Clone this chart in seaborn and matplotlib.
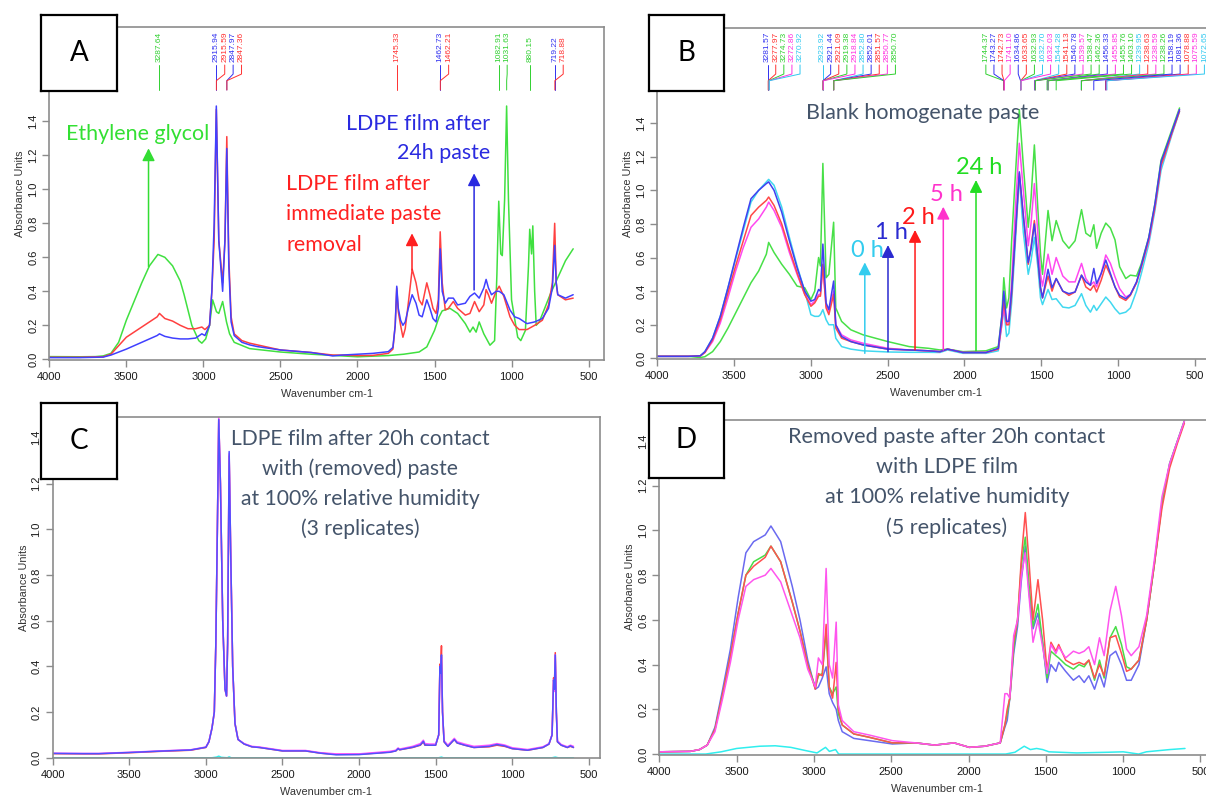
import numpy as np
import pandas as pd
import seaborn as sns
import matplotlib.pyplot as plt
from matplotlib.ticker import FormatStrFormatter

sns.set_style("white")
plt.rcParams['font.family'] = ['Liberation Sans', 'DejaVu Sans']

# ---------------- panel A data ----------------
a_wn = [4000, 3800, 3700, 3650, 3600, 3500, 3400, 3300, 3285, 3250,
        3200, 3150, 3100, 3050, 3010, 2990, 2960, 2945, 2930, 2916,
        2900, 2875, 2860, 2848, 2835, 2820, 2800, 2750, 2700, 2650,
        2500, 2300, 2160, 2100, 2000, 1900, 1800, 1770, 1755, 1745,
        1735, 1720, 1705, 1690, 1670, 1645, 1620, 1600, 1580, 1550,
        1530, 1510, 1490, 1475, 1463, 1450, 1430, 1410, 1378, 1350,
        1300, 1270, 1240, 1210, 1180, 1165, 1150, 1130, 1100, 1080,
        1050, 1010, 980, 950, 900, 850, 800, 760, 735, 720,
        710, 700, 650, 600]
a_red = [0.012, 0.012, 0.014, 0.015, 0.03, 0.13, 0.19, 0.25, 0.27, 0.24,
         0.225, 0.2, 0.18, 0.18, 0.19, 0.175, 0.2, 0.4, 0.7, 1.47,
         0.7, 0.45, 0.7, 1.31, 0.6, 0.25, 0.15, 0.11, 0.095, 0.085,
         0.055, 0.04, 0.025, 0.025, 0.022, 0.023, 0.035, 0.06, 0.2, 0.42,
         0.28, 0.2, 0.13, 0.18, 0.33, 0.53, 0.45, 0.35, 0.32, 0.45,
         0.38, 0.3, 0.27, 0.35, 0.75, 0.45, 0.29, 0.3, 0.34, 0.3,
         0.26, 0.27, 0.34, 0.28, 0.32, 0.41, 0.38, 0.33, 0.4, 0.43,
         0.37, 0.25, 0.2, 0.175, 0.175, 0.2, 0.23, 0.32, 0.45, 0.8,
         0.45, 0.38, 0.35, 0.36]
a_blue = [0.01, 0.01, 0.012, 0.013, 0.025, 0.06, 0.1, 0.14, 0.15, 0.135,
          0.125, 0.12, 0.12, 0.125, 0.15, 0.14, 0.2, 0.4, 0.8, 1.49,
          0.7, 0.4, 0.7, 1.24, 0.55, 0.22, 0.14, 0.1, 0.085, 0.075,
          0.055, 0.04, 0.02, 0.025, 0.03, 0.035, 0.045, 0.07, 0.2, 0.43,
          0.3, 0.23, 0.2, 0.22, 0.3, 0.38, 0.33, 0.26, 0.25, 0.35,
          0.3, 0.24, 0.22, 0.3, 0.65, 0.4, 0.33, 0.36, 0.36, 0.32,
          0.33, 0.37, 0.39, 0.36, 0.42, 0.47, 0.42, 0.38, 0.4, 0.4,
          0.38, 0.29, 0.25, 0.24, 0.21, 0.22, 0.24, 0.3, 0.42, 0.67,
          0.45, 0.38, 0.36, 0.38]
glycol_wn = [4000, 3800, 3700, 3650, 3600, 3550, 3500, 3450, 3400, 3350,
             3295, 3250, 3200, 3150, 3125, 3075, 3030, 3010, 2985, 2960,
             2940, 2915, 2900, 2875, 2850, 2830, 2800, 2700, 2500, 2300,
             2000, 1800, 1700, 1600, 1550, 1500, 1470, 1450, 1400, 1350,
             1300, 1270, 1250, 1230, 1210, 1180, 1140, 1110, 1095, 1083,
             1070, 1060, 1045, 1032, 1020, 1000, 960, 940, 910, 890,
             882, 870, 862, 850, 840, 820, 750, 700, 650, 600]
glycol_abs = [0.016, 0.015, 0.016, 0.02, 0.035, 0.1, 0.23, 0.34, 0.45, 0.55,
              0.617, 0.6, 0.55, 0.46, 0.38, 0.2, 0.11, 0.095, 0.12, 0.2,
              0.35, 0.28, 0.27, 0.34, 0.22, 0.15, 0.1, 0.063, 0.043, 0.03,
              0.015, 0.022, 0.03, 0.043, 0.073, 0.17, 0.25, 0.285, 0.3, 0.27,
              0.21, 0.16, 0.19, 0.16, 0.22, 0.15, 0.083, 0.11, 0.5, 0.93,
              0.62, 0.61, 0.94, 1.49, 0.94, 0.35, 0.13, 0.11, 0.17, 0.55,
              0.765, 0.62, 0.785, 0.4, 0.2, 0.22, 0.38, 0.48, 0.58, 0.65]
a_peaks = [3287.64, 2915.94, 2915.59, 2847.97, 2847.36, 1745.33, 1462.73,
           1462.21, 1082.91, 1031.63, 880.15, 719.22, 718.88]
a_peak_colors = ['g', 'b', 'r', 'b', 'r', 'r', 'b', 'r', 'g', 'g', 'g', 'b', 'r']

# ---------------- panel B data ----------------
b_wn = [4000, 3800, 3720, 3690, 3640, 3590, 3540, 3490, 3440, 3390,
        3340, 3290, 3275, 3240, 3190, 3140, 3090, 3040, 3000, 2975,
        2950, 2938, 2922, 2901, 2883, 2852, 2838, 2800, 2740, 2660,
        2500, 2360, 2235, 2160, 2110, 2010, 1860, 1780, 1757, 1744,
        1726, 1711, 1693, 1668, 1643, 1617, 1585, 1567, 1545, 1523,
        1505, 1492, 1456, 1430, 1403, 1360, 1320, 1280, 1238, 1210,
        1180, 1158, 1140, 1110, 1080, 1050, 1020, 990, 950, 920,
        880, 850, 800, 760, 720, 700, 650, 600]
b_0h = [0.012, 0.012, 0.015, 0.04, 0.12, 0.25, 0.42, 0.59, 0.76, 0.93,
        1.0, 1.05, 1.065, 1.03, 0.9, 0.72, 0.55, 0.4, 0.26, 0.25,
        0.25, 0.26, 0.29, 0.23, 0.2, 0.2, 0.12, 0.07, 0.055, 0.045,
        0.038, 0.036, 0.036, 0.035, 0.05, 0.03, 0.03, 0.045, 0.2, 0.3,
        0.13, 0.15, 0.33, 0.7, 1.08, 0.75, 0.5, 0.58, 0.72, 0.55,
        0.36, 0.32, 0.41, 0.35, 0.355, 0.305, 0.3, 0.315, 0.385, 0.315,
        0.275, 0.315, 0.285, 0.325, 0.365, 0.335, 0.295, 0.265, 0.275, 0.3,
        0.4, 0.5, 0.68, 0.88, 1.12, 1.18, 1.33, 1.47]
b_1h = [0.012, 0.012, 0.015, 0.04, 0.12, 0.25, 0.42, 0.6, 0.78, 0.95,
        1.0, 1.04, 1.05, 1.0, 0.87, 0.7, 0.54, 0.4, 0.34, 0.35,
        0.41, 0.4, 0.68, 0.33, 0.29, 0.46, 0.2, 0.13, 0.1, 0.08,
        0.055, 0.05, 0.045, 0.04, 0.055, 0.035, 0.035, 0.06, 0.25, 0.4,
        0.22, 0.22, 0.4, 0.75, 1.11, 0.85, 0.57, 0.65, 0.8, 0.6,
        0.42, 0.36, 0.53, 0.42, 0.475, 0.4, 0.385, 0.395, 0.495, 0.455,
        0.435, 0.535, 0.445, 0.505, 0.585, 0.505, 0.425, 0.375, 0.355, 0.38,
        0.455, 0.55, 0.72, 0.92, 1.17, 1.22, 1.35, 1.48]
b_2h = [0.012, 0.012, 0.015, 0.035, 0.11, 0.23, 0.39, 0.55, 0.7, 0.85,
        0.9, 0.94, 0.96, 0.91, 0.8, 0.65, 0.51, 0.38, 0.31, 0.33,
        0.37, 0.37, 0.56, 0.3, 0.26, 0.38, 0.18, 0.12, 0.1, 0.08,
        0.055, 0.05, 0.045, 0.04, 0.055, 0.035, 0.035, 0.055, 0.22, 0.35,
        0.2, 0.2, 0.38, 0.75, 1.1, 0.85, 0.56, 0.66, 0.82, 0.6,
        0.42, 0.36, 0.49, 0.4, 0.475, 0.4, 0.375, 0.395, 0.495, 0.425,
        0.405, 0.435, 0.395, 0.465, 0.555, 0.495, 0.425, 0.365, 0.345, 0.375,
        0.45, 0.54, 0.71, 0.9, 1.15, 1.2, 1.34, 1.47]
b_5h = [0.012, 0.012, 0.015, 0.035, 0.1, 0.21, 0.36, 0.52, 0.66, 0.78,
        0.83, 0.9, 0.93, 0.88, 0.78, 0.63, 0.5, 0.38, 0.32, 0.34,
        0.38, 0.38, 0.55, 0.31, 0.28, 0.4, 0.2, 0.14, 0.11, 0.09,
        0.06, 0.05, 0.045, 0.04, 0.055, 0.035, 0.035, 0.055, 0.2, 0.3,
        0.2, 0.24, 0.45, 0.9, 1.28, 1.0, 0.67, 0.8, 1.04, 0.75,
        0.5, 0.43, 0.62, 0.5, 0.6, 0.49, 0.455, 0.455, 0.565, 0.475,
        0.435, 0.455, 0.425, 0.505, 0.615, 0.565, 0.485, 0.415, 0.365, 0.38,
        0.45, 0.54, 0.7, 0.9, 1.15, 1.2, 1.34, 1.48]
b_24h = [0.012, 0.012, 0.005, 0.01, 0.04, 0.1, 0.18, 0.27, 0.36, 0.45,
         0.52, 0.62, 0.69, 0.63, 0.56, 0.5, 0.43, 0.42, 0.35, 0.4,
         0.6, 0.55, 1.16, 0.48, 0.5, 0.81, 0.3, 0.22, 0.17, 0.14,
         0.1, 0.07, 0.06, 0.05, 0.055, 0.04, 0.045, 0.07, 0.25, 0.48,
         0.3, 0.36, 0.7, 1.1, 1.48, 1.15, 0.78, 0.95, 1.27, 0.9,
         0.62, 0.5, 0.88, 0.7, 0.82, 0.7, 0.655, 0.7, 0.885, 0.745,
         0.725, 0.795, 0.655, 0.745, 0.805, 0.775, 0.705, 0.545, 0.475, 0.495,
         0.49, 0.56, 0.72, 0.92, 1.18, 1.23, 1.36, 1.49]
b_peaks = [3281.57, 3277.97, 3274.73, 3272.86, 3270.92,
           2923.92, 2921.44, 2921.09, 2919.38, 2918.84,
           2852.80, 2852.01, 2851.57, 2850.77, 2850.70,
           1744.37, 1743.27, 1742.73, 1741.10, 1634.86, 1633.65, 1632.93,
           1632.70, 1632.03, 1544.28, 1541.13, 1540.78, 1539.57, 1538.47,
           1462.36, 1456.33, 1455.85, 1455.76, 1403.10, 1239.95, 1238.63,
           1238.59, 1238.26, 1158.19, 1081.36, 1078.88, 1075.59, 1072.65]
b_peak_colors = ['b', 'r', 'g', 'm', 'c',
                 'c', 'b', 'r', 'g', 'm',
                 'c', 'b', 'r', 'm', 'g',
                 'g', 'b', 'r', 'm', 'b', 'r', 'g',
                 'c', 'm', 'c', 'r', 'b', 'm', 'g',
                 'g', 'b', 'm', 'g', 'g', 'c', 'r',
                 'm', 'g', 'b', 'b', 'r', 'm', 'c']
b_hours = ['0 h', '1 h', '2 h', '5 h', '24 h']
b_arrow_x = [2649, 2498, 2322, 2138, 1925]
b_arrow_top = [0.571, 0.674, 0.764, 0.902, 1.061]
b_arrow_bottom = [0.03, 0.04, 0.05, 0.05, 0.045]

# ---------------- panel C data ----------------
c_wn = [4000, 3800, 3700, 3500, 3300, 3100, 3000, 2980, 2960, 2945,
        2935, 2925, 2916, 2905, 2890, 2875, 2865, 2858, 2848, 2838,
        2825, 2810, 2790, 2750, 2700, 2650, 2500, 2350, 2250, 2150,
        2000, 1800, 1760, 1745, 1735, 1650, 1600, 1580, 1570, 1540,
        1500, 1480, 1472, 1468, 1462, 1455, 1445, 1420, 1378, 1360,
        1310, 1250, 1150, 1100, 1050, 1000, 900, 800, 760, 740,
        730, 725, 719, 712, 705, 680, 640, 620, 600]
c_rep1 = [0.018, 0.017, 0.017, 0.022, 0.028, 0.033, 0.045, 0.07, 0.13, 0.2,
          0.5, 1.0, 1.48, 1.2, 0.6, 0.3, 0.27, 0.5, 1.32, 0.9,
          0.4, 0.15, 0.08, 0.06, 0.048, 0.045, 0.03, 0.03, 0.02, 0.015,
          0.015, 0.025, 0.03, 0.04, 0.035, 0.045, 0.055, 0.07, 0.055, 0.055,
          0.055, 0.1, 0.41, 0.38, 0.49, 0.2, 0.07, 0.05, 0.08, 0.065,
          0.055, 0.045, 0.048, 0.055, 0.05, 0.04, 0.033, 0.045, 0.06, 0.1,
          0.35, 0.3, 0.46, 0.2, 0.07, 0.055, 0.045, 0.05, 0.045]
c_rep2 = [0.02, 0.019, 0.019, 0.024, 0.03, 0.035, 0.047, 0.072, 0.13, 0.2,
          0.5, 1.0, 1.49, 1.2, 0.6, 0.3, 0.27, 0.5, 1.33, 0.9,
          0.4, 0.15, 0.08, 0.062, 0.05, 0.047, 0.032, 0.032, 0.022, 0.017,
          0.017, 0.028, 0.033, 0.043, 0.038, 0.05, 0.062, 0.077, 0.062, 0.06,
          0.06, 0.1, 0.4, 0.37, 0.44, 0.2, 0.075, 0.055, 0.085, 0.07,
          0.06, 0.05, 0.055, 0.062, 0.056, 0.044, 0.036, 0.048, 0.062, 0.1,
          0.34, 0.29, 0.45, 0.2, 0.075, 0.058, 0.048, 0.055, 0.05]
c_rep3 = [0.019, 0.018, 0.018, 0.023, 0.029, 0.034, 0.046, 0.07, 0.13, 0.2,
          0.5, 1.0, 1.48, 1.2, 0.6, 0.3, 0.27, 0.5, 1.34, 0.9,
          0.4, 0.15, 0.08, 0.06, 0.048, 0.045, 0.03, 0.03, 0.02, 0.013,
          0.014, 0.024, 0.03, 0.04, 0.035, 0.046, 0.056, 0.072, 0.056, 0.055,
          0.055, 0.1, 0.4, 0.37, 0.45, 0.2, 0.07, 0.05, 0.08, 0.065,
          0.055, 0.045, 0.05, 0.058, 0.052, 0.04, 0.033, 0.045, 0.06, 0.1,
          0.34, 0.3, 0.45, 0.2, 0.07, 0.055, 0.045, 0.052, 0.045]
c_diff_wn = [4000, 2960, 2930, 2916, 2900, 2860, 2848, 2835, 1480, 1462,
             1450, 740, 719, 700, 600]
c_diff = [0.0, 0.0, 0.003, 0.007, 0.002, 0.0, 0.004, 0.0, 0.0, 0.003,
          0.0, 0.0, 0.003, 0.0, 0.0]

# ---------------- panel D data ----------------
d_wn = [4000, 3800, 3740, 3690, 3640, 3590, 3540, 3490, 3440, 3390,
        3315, 3278, 3215, 3140, 3090, 3040, 2991, 2971, 2946, 2921,
        2901, 2879, 2856, 2842, 2817, 2742, 2642, 2493, 2343, 2219,
        2094, 1995, 1895, 1795, 1765, 1750, 1733, 1708, 1683, 1658,
        1633, 1608, 1583, 1551, 1521, 1492, 1467, 1435, 1417, 1372,
        1322, 1285, 1252, 1222, 1185, 1153, 1123, 1085, 1048, 1011,
        978, 948, 898, 848, 798, 749, 699, 649, 604]
d_blue = [0.01, 0.012, 0.02, 0.04, 0.12, 0.29, 0.47, 0.7, 0.9, 0.95,
          0.98, 1.02, 0.95, 0.75, 0.6, 0.42, 0.29, 0.3, 0.34, 0.39,
          0.27, 0.23, 0.2, 0.15, 0.1, 0.07, 0.06, 0.045, 0.05, 0.04,
          0.05, 0.03, 0.035, 0.05, 0.12, 0.15, 0.25, 0.45, 0.57, 0.78,
          0.93, 0.72, 0.56, 0.63, 0.5, 0.32, 0.4, 0.37, 0.41, 0.37,
          0.33, 0.35, 0.32, 0.35, 0.29, 0.36, 0.3, 0.44, 0.46, 0.4,
          0.33, 0.33, 0.4, 0.6, 0.85, 1.12, 1.3, 1.4, 1.49]
d_green = [0.01, 0.012, 0.02, 0.04, 0.11, 0.27, 0.44, 0.63, 0.8, 0.86,
           0.89, 0.93, 0.86, 0.68, 0.55, 0.4, 0.3, 0.35, 0.36, 0.55,
           0.3, 0.27, 0.3, 0.18, 0.13, 0.09, 0.075, 0.05, 0.05, 0.04,
           0.05, 0.03, 0.035, 0.05, 0.13, 0.18, 0.25, 0.47, 0.6, 0.85,
           0.97, 0.75, 0.57, 0.67, 0.5, 0.34, 0.46, 0.44, 0.43, 0.4,
           0.38, 0.4, 0.39, 0.42, 0.33, 0.42, 0.34, 0.52, 0.57, 0.49,
           0.39, 0.38, 0.42, 0.6, 0.85, 1.12, 1.3, 1.4, 1.49]
d_red = [0.01, 0.012, 0.02, 0.04, 0.11, 0.27, 0.44, 0.63, 0.8, 0.84,
         0.88, 0.93, 0.86, 0.68, 0.55, 0.4, 0.29, 0.36, 0.35, 0.58,
         0.3, 0.25, 0.41, 0.2, 0.13, 0.09, 0.075, 0.05, 0.05, 0.04,
         0.05, 0.03, 0.035, 0.05, 0.13, 0.2, 0.25, 0.5, 0.6, 0.88,
         1.08, 0.85, 0.6, 0.78, 0.6, 0.37, 0.5, 0.46, 0.49, 0.42,
         0.4, 0.41, 0.4, 0.42, 0.34, 0.4, 0.35, 0.52, 0.53, 0.45,
         0.37, 0.38, 0.42, 0.6, 0.85, 1.1, 1.28, 1.39, 1.48]
d_magenta = [0.01, 0.012, 0.02, 0.04, 0.1, 0.25, 0.41, 0.6, 0.75, 0.78,
             0.8, 0.83, 0.77, 0.62, 0.52, 0.38, 0.3, 0.43, 0.4, 0.83,
             0.4, 0.34, 0.59, 0.22, 0.15, 0.1, 0.085, 0.06, 0.05, 0.04,
             0.05, 0.03, 0.035, 0.05, 0.27, 0.27, 0.25, 0.53, 0.6, 0.8,
             0.9, 0.7, 0.5, 0.6, 0.48, 0.36, 0.49, 0.45, 0.48, 0.43,
             0.46, 0.45, 0.46, 0.48, 0.4, 0.52, 0.44, 0.64, 0.75, 0.62,
             0.47, 0.44, 0.48, 0.62, 0.87, 1.15, 1.3, 1.4, 1.49]
d_diff_wn = [4000, 3700, 3600, 3500, 3350, 3250, 3150, 3050, 2980, 2925,
             2900, 2860, 2840, 1760, 1700, 1640, 1600, 1560, 1520, 1480,
             1300, 1100, 1000, 950, 900, 850, 700, 600]
d_diff = [0.0, 0.0, 0.01, 0.025, 0.035, 0.037, 0.03, 0.015, 0.005, 0.03,
          0.012, 0.02, 0.0, 0.0, 0.008, 0.035, 0.02, 0.025, 0.02, 0.01,
          0.005, 0.008, 0.01, 0.005, 0.0, 0.01, 0.02, 0.025]

# ---------------- styling ----------------
W, H = 1206, 796
label_cols = {'r': '#ff3030', 'g': '#30d030', 'b': '#3030f0',
              'm': '#ff30e0', 'c': '#30c8f0'}
slate = '#44546a'


def px_axes(fig, left, top, right, bottom):
    return fig.add_axes([left / W, 1 - bottom / H, (right - left) / W, (bottom - top) / H])


def style_axes(ax, xlim, ylim):
    ax.set_xlim(*xlim)
    ax.set_ylim(*ylim)
    ax.set_xticks(range(4000, 499, -500))
    ax.set_yticks(np.arange(0, 1.41, 0.2))
    ax.yaxis.set_major_formatter(FormatStrFormatter('%.1f'))
    for s in ax.spines.values():
        s.set_color('#8c8c8c')
        s.set_linewidth(1.2)
    ax.tick_params(bottom=True, left=True, direction='out', length=5, width=1,
                   color='#8c8c8c', labelsize=8, labelcolor='#1a1a1a', pad=4)
    ax.tick_params(axis='y', labelrotation=90, pad=3)
    for lab in ax.get_yticklabels():
        lab.set_va('center')
    ax.set_xlabel('Wavenumber cm-1', fontsize=7.8, color='#333333', labelpad=5)
    ax.set_ylabel('Absorbance Units', fontsize=7.8, color='#333333', labelpad=2)


def draw_spectra(ax, wn, series, palette):
    frames = [pd.DataFrame({'wn': wn, 'absorbance': vals, 'series': name})
              for name, vals in series.items()]
    df = pd.concat(frames, ignore_index=True)
    sns.lineplot(data=df, x='wn', y='absorbance', hue='series', hue_order=list(series),
                 palette=palette, sort=False, estimator=None, legend=False,
                 linewidth=1.1, ax=ax)


def peak_labels(ax, wn, cols, gap, right_bound, ys):
    y_text, y_top, y_b1, y_b2, y_bot = ys
    order = np.argsort(wn)[::-1]
    wn_s = [wn[i] for i in order]
    col_s = [cols[i] for i in order]
    pos = []
    for w in wn_s:
        pos.append(w if not pos else min(w, pos[-1] - gap))
    pos[-1] = max(pos[-1], right_bound)
    for i in range(len(pos) - 2, -1, -1):
        pos[i] = max(pos[i], pos[i + 1] + gap)
    for w, p, c in zip(wn_s, pos, col_s):
        ax.plot([p, p, w, w], [y_top, y_b1, y_b2, y_bot], color=label_cols[c], lw=0.7)
        ax.text(p, y_text, f"{w:.2f}", rotation=90, ha='center', va='bottom',
                fontsize=6, color=label_cols[c])


def arrow(ax, x, y0, y1, color):
    ax.annotate('', xy=(x, y1), xytext=(x, y0),
                arrowprops=dict(arrowstyle='-|>,head_length=0.75,head_width=0.38',
                                color=color, lw=1.1, shrinkA=0, shrinkB=0))


def letter_box(fig, left, top, right, bottom, letter):
    bx = px_axes(fig, left, top, right, bottom)
    bx.set_xticks([])
    bx.set_yticks([])
    bx.set_facecolor('white')
    for s in bx.spines.values():
        s.set_color('black')
        s.set_linewidth(1.6)
        s.set_visible(True)
    bx.text(0.5, 0.5, letter, ha='center', va='center', fontsize=20,
            family=['Lato', 'DejaVu Sans'], color='black')


fig = plt.figure(figsize=(12.06, 7.96), dpi=100)
fig.patch.set_facecolor('white')
ann = dict(family=['Lato', 'DejaVu Sans'])

# ---------------- A ----------------
axA = px_axes(fig, 49.3, 27.3, 604.3, 360)
draw_spectra(axA, glycol_wn, {'glycol': glycol_abs}, {'glycol': '#40e040'})
draw_spectra(axA, a_wn, {'red': a_red, 'blue': a_blue}, {'red': '#ff4040', 'blue': '#4040ff'})
style_axes(axA, (4000, 398), (-0.004, 1.953))
peak_labels(axA, a_peaks, a_peak_colors, 54.5, 450, (1.751, 1.731, 1.678, 1.639, 1.584))
axA.text(3424, 1.325, 'Ethylene glycol', color='#33e033', fontsize=15.4,
         ha='center', va='center', **ann)
arrow(axA, 3356, 0.545, 1.241, '#33dd33')
axA.text(1136, 1.387, 'LDPE film after', color='#2a2ae0', fontsize=15.4, ha='right', va='center', **ann)
axA.text(1136, 1.211, '24h paste', color='#2a2ae0', fontsize=15.4, ha='right', va='center', **ann)
arrow(axA, 1243, 0.408, 1.094, '#2a2ae0')
for i, line in enumerate(['LDPE film after', 'immediate paste', 'removal']):
    axA.text(2462, 1.034 - i * 0.181, line, color='#ff2020', fontsize=15.4,
             ha='left', va='center', **ann)
arrow(axA, 1646, 0.525, 0.741, '#ff2020')

# ---------------- B ----------------
axB = px_axes(fig, 657.3, 28.3, 1215, 358.7)
draw_spectra(axB, b_wn, {'0 h': b_0h, '24 h': b_24h, '5 h': b_5h, '2 h': b_2h, '1 h': b_1h},
             {'0 h': '#40d8f0', '1 h': '#4040f0', '2 h': '#ff4848',
              '5 h': '#ff48f0', '24 h': '#48e048'})
style_axes(axB, (4000, 369), (-0.002, 1.964))
peak_labels(axB, b_peaks, b_peak_colors, 52.7, 438, (1.765, 1.746, 1.692, 1.652, 1.597))
axB.text(2271, 1.46, 'Blank homogenate paste', color=slate, fontsize=15.5,
         ha='center', va='center', **ann)
hour_cols = ['#33ccee', '#2a2ad0', '#ff1a1a', '#ff33cc', '#22dd22']
for name, x, top, bot, c in zip(b_hours, b_arrow_x, b_arrow_top, b_arrow_bottom, hour_cols):
    arrow(axB, x, bot, top, c)
    axB.text(x - 20, top + 0.01, name, color=c, fontsize=17, ha='center', va='bottom', **ann)

# ---------------- C ----------------
axC = px_axes(fig, 52.7, 417, 600, 758)
draw_spectra(axC, c_wn, {'r1': c_rep1, 'r2': c_rep2, 'r3': c_rep3},
             {'r1': '#ff4040', 'r2': '#ff55ff', 'r3': '#5050ff'})
draw_spectra(axC, c_diff_wn, {'diff': c_diff}, {'diff': '#30eeee'})
style_axes(axC, (4000, 427), (-0.001, 1.491))
for i, line in enumerate(['LDPE film after 20h contact', 'with (removed) paste',
                          'at 100% relative humidity', '(3 replicates)']):
    axC.text(1992, 1.395 - i * 0.1315, line, color=slate, fontsize=15.2,
             ha='center', va='center', **ann)

# ---------------- D ----------------
axD = px_axes(fig, 659.3, 420, 1215, 754.5)
draw_spectra(axD, d_wn, {'blue': d_blue, 'green': d_green, 'red': d_red, 'magenta': d_magenta},
             {'blue': '#6a6af0', 'green': '#48dd48', 'red': '#ff5050', 'magenta': '#ff55ee'})
draw_spectra(axD, d_diff_wn, {'diff': d_diff}, {'diff': '#30eeee'})
style_axes(axD, (4000, 406), (-0.002, 1.494))
for i, line in enumerate(['Removed paste after 20h contact', 'with LDPE film',
                          'at 100% relative humidity', '(5 replicates)']):
    axD.text(2140, 1.416 - i * 0.134, line, color=slate, fontsize=15.6,
             ha='center', va='center', **ann)

letter_box(fig, 41.3, 15.3, 117, 90.7, 'A')
letter_box(fig, 648.7, 15.3, 723.7, 90.7, 'B')
letter_box(fig, 41.3, 403.3, 117, 478.7, 'C')
letter_box(fig, 648.7, 402.7, 723.7, 478, 'D')

fig.savefig('out.png', dpi=100, facecolor='white')
